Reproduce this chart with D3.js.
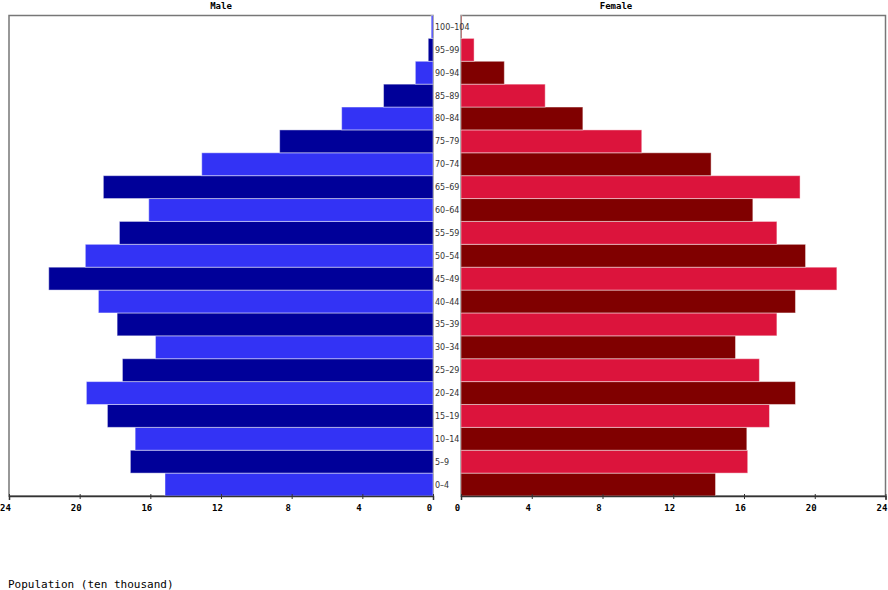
<!DOCTYPE html>
<html>
<head>
<meta charset="UTF-8">
<title>Population pyramid</title>
<script src="https://d3js.org/d3.v7.min.js"></script>
<style>
  body { margin: 0; background: #fff; }
  .tick text { font-family: "DejaVu Sans Mono", monospace; font-weight: bold; font-size: 9px; fill: #000; }
  .age { font-family: "DejaVu Sans", sans-serif; font-size: 8px; fill: #333; }
</style>
</head>
<body>
<div class="canvas"></div>
<script>
// age groups, bottom to top
const ages = ['0–4','5–9','10–14','15–19','20–24','25–29','30–34','35–39','40–44','45–49',
              '50–54','55–59','60–64','65–69','70–74','75–79','80–84','85–89','90–94','95–99','100–104']
// values in ten thousands
const male = [15.17, 17.13, 16.86, 18.43, 19.62, 17.58, 15.71, 17.88, 18.94, 21.75,
              19.68, 17.75, 16.09, 18.66, 13.09, 8.68, 5.17, 2.8, 1.0, 0.27, 0.1]
const female = [14.39, 16.21, 16.16, 17.44, 18.91, 16.87, 15.52, 17.86, 18.91, 21.25,
                19.48, 17.86, 16.5, 19.17, 14.14, 10.22, 6.89, 4.76, 2.45, 0.74, 0.05]
const ticks = [0, 4, 8, 12, 16, 20, 24]

const width = 888
const height = 590
const plotTop = 15.5, plotBottom = 496
const leftPanel = [9, 433]
const rightPanel = [461, 885.5]

const svg = d3.select('.canvas').append('svg')
    .attr('width', width)
    .attr('height', height)

const y = d3.scaleBand()
    .domain(ages)
    .range([plotBottom, plotTop])
    .padding(0)

const xl = d3.scaleLinear().domain([24, 0]).range(leftPanel)
const xr = d3.scaleLinear().domain([0, 24]).range(rightPanel)

// panel frames
;[leftPanel, rightPanel].forEach(p => {
  svg.append('rect')
    .attr('x', p[0]).attr('y', plotTop)
    .attr('width', p[1] - p[0]).attr('height', plotBottom - plotTop)
    .attr('fill', 'none')
    .attr('stroke', '#777')
    .attr('stroke-width', 1.5)
})

// male bars
svg.append('g').selectAll('rect')
  .data(male)
  .enter().append('rect')
    .attr('x', d => xl(d))
    .attr('y', (d, i) => y(ages[i]))
    .attr('width', d => xl(0) - xl(d))
    .attr('height', y.bandwidth())
    .attr('fill', (d, i) => i % 2 === 0 ? '#3333f5' : '#000099')
    .attr('stroke', 'rgba(255,255,255,0.45)')
    .attr('stroke-width', 1)

// female bars
svg.append('g').selectAll('rect')
  .data(female)
  .enter().append('rect')
    .attr('x', xr(0))
    .attr('y', (d, i) => y(ages[i]))
    .attr('width', d => xr(d) - xr(0))
    .attr('height', y.bandwidth())
    .attr('fill', (d, i) => i % 2 === 0 ? '#800000' : '#dc143c')
    .attr('stroke', 'rgba(255,255,255,0.45)')
    .attr('stroke-width', 1)

// age labels in the gap
svg.append('g').selectAll('text')
  .data(ages)
  .enter().append('text')
    .attr('class', 'age')
    .attr('x', 435)
    .attr('y', d => y(d) + y.bandwidth() / 2 + 3)
    .text(d => d)

// axes
const axisL = d3.axisBottom(xl).tickValues(ticks).tickSize(4).tickFormat(d3.format('d'))
const axisR = d3.axisBottom(xr).tickValues(ticks).tickSize(4).tickFormat(d3.format('d'))

const gl = svg.append('g').attr('transform', `translate(0, ${plotBottom})`).call(axisL)
const gr = svg.append('g').attr('transform', `translate(0, ${plotBottom})`).call(axisR)

;[gl, gr].forEach(g => {
  g.select('.domain').attr('stroke', '#333').attr('stroke-width', 1.5)
  g.selectAll('.tick line').attr('stroke', '#333').attr('y1', -2).attr('y2', 3)
  g.selectAll('.tick text').attr('y', 9).attr('dx', -4)
})

// titles
svg.append('text')
  .attr('x', (leftPanel[0] + leftPanel[1]) / 2)
  .attr('y', 9)
  .attr('text-anchor', 'middle')
  .style('font-family', '"DejaVu Sans Mono", monospace')
  .style('font-weight', 'bold')
  .style('font-size', '9px')
  .text('Male')

svg.append('text')
  .attr('x', 616)
  .attr('y', 9)
  .attr('text-anchor', 'middle')
  .style('font-family', '"DejaVu Sans Mono", monospace')
  .style('font-weight', 'bold')
  .style('font-size', '9px')
  .text('Female')

svg.append('text')
  .attr('x', 8)
  .attr('y', 588)
  .style('font-family', '"DejaVu Sans Mono", monospace')
  .style('font-size', '11px')
  .text('Population (ten thousand)')
</script>
</body>
</html>
